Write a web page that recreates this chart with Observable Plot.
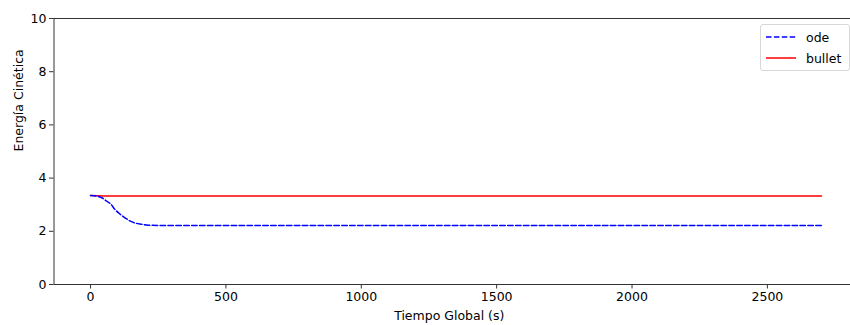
<!DOCTYPE html>
<html>
<head>
<meta charset="utf-8">
<script src="https://cdn.jsdelivr.net/npm/d3@7"></script>
<script src="https://cdn.jsdelivr.net/npm/@observablehq/plot@0.6"></script>
<style>
  html, body { margin: 0; padding: 0; background: #fff; }
  #wrap { position: relative; width: 850px; height: 325px; overflow: hidden; font-family: "DejaVu Sans", sans-serif; }
  #legend { position: absolute; left: 760px; top: 24px; width: 88px; height: 45px; border: 1px solid #d8d8d8; border-radius: 3px; background: #fff; font-size: 12.5px; color: #000; }
  #legend .item { position: absolute; left: 5px; height: 16px; display: flex; align-items: center; }
  #legend .item span { margin-left: 10px; }
</style>
</head>
<body>
<div id="wrap">
  <div id="chart"></div>
  <div id="legend"></div>
</div>
<script>
// --- data ---
const odeTime = [0, 20, 40, 60, 75, 90, 105, 116, 130, 147, 165, 184, 208, 250, 400, 1000, 2000, 2700];
const odeEnergy = [3.35, 3.33, 3.27, 3.13, 3.02, 2.82, 2.68, 2.59, 2.49, 2.38, 2.31, 2.27, 2.24, 2.22, 2.22, 2.22, 2.22, 2.22];
const bulletTime = [0, 50, 500, 1000, 1500, 2000, 2700];
const bulletEnergy = [3.35, 3.33, 3.33, 3.33, 3.33, 3.33, 3.33];
const xTicks = [0, 500, 1000, 1500, 2000, 2500];
const yTicks = [0, 2, 4, 6, 8, 10];
const xDomain = [-135, 2807];
const yDomain = [0, 10];
const seriesNames = ["ode", "bullet"];
const seriesColors = ["blue", "red"];

const ode = odeTime.map((t, i) => ({t, e: odeEnergy[i]}));
const bullet = bulletTime.map((t, i) => ({t, e: bulletEnergy[i]}));

const spine = "#333";
const chart = Plot.plot({
  width: 850,
  height: 325,
  marginLeft: 53.5,
  marginRight: 0,
  marginTop: 18,
  marginBottom: 41,
  style: {fontFamily: "DejaVu Sans, sans-serif", fontSize: "12.5px", color: "#000", background: "#fff"},
  x: {domain: xDomain},
  y: {domain: yDomain},
  marks: [
    Plot.line(bullet, {x: "t", y: "e", stroke: seriesColors[1], strokeWidth: 1.5}),
    Plot.line(ode, {x: "t", y: "e", stroke: seriesColors[0], strokeWidth: 1.5, strokeDasharray: "5.5,2.4", curve: "monotone-x"}),
    Plot.ruleY(yDomain, {stroke: spine, strokeWidth: 1}),
    Plot.ruleX([xDomain[0]], {stroke: spine, strokeWidth: 1}),
    Plot.axisX(xTicks, {tickSize: 4.5, tickPadding: 3, stroke: spine, label: null, tickFormat: d => String(d), fontSize: 12.5}),
    Plot.axisY(yTicks, {tickSize: 4.5, tickPadding: 3, stroke: spine, label: null, tickFormat: d => String(d), fontSize: 12.5}),
    Plot.text(["Tiempo Global (s)"], {frameAnchor: "bottom", dy: 35, dx: -3, fontSize: 12.5, fill: "#000"}),
    Plot.text(["Energía Cinética"], {frameAnchor: "left", dx: -35, rotate: -90, fontSize: 12.5, fill: "#000"})
  ]
});
document.getElementById("chart").appendChild(chart);

// legend
const legend = document.getElementById("legend");
seriesNames.forEach((name, i) => {
  const item = document.createElement("div");
  item.className = "item";
  item.style.top = (4 + i * 21) + "px";
  const dash = i === 0 ? 'stroke-dasharray="5.5,2.4"' : '';
  item.innerHTML = `<svg width="30" height="10"><line x1="0" x2="30" y1="5" y2="5" stroke="${seriesColors[i]}" stroke-width="1.5" ${dash}/></svg><span>${name}</span>`;
  legend.appendChild(item);
});
</script>
</body>
</html>
